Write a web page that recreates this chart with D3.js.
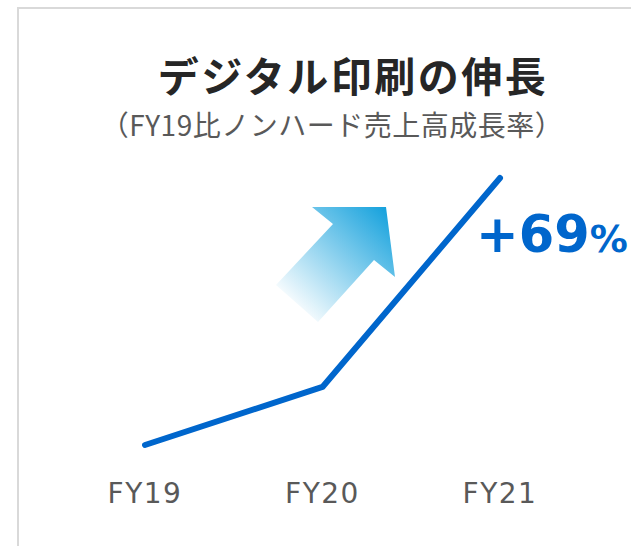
<!DOCTYPE html>
<html lang="ja">
<head>
<meta charset="utf-8">
<title>デジタル印刷の伸長</title>
<style>
  body { margin: 0; background: #fff; }
  svg { display: block; }
  text { font-family: "Noto Sans CJK JP", "Noto Sans", sans-serif; }
  text.latin { font-family: "DejaVu Sans", sans-serif; }
</style>
</head>
<body>
<div id="chart"></div>
<script src="https://d3js.org/d3.v7.min.js"></script>
<script>
// data
var years = ["FY19", "FY20", "FY21"];
var growth = [0, 15, 69];          // non-hardware sales growth vs FY19, %
var highlight = "+69";

var width = 631, height = 546;

var svg = d3.select("#chart").append("svg")
  .attr("width", width)
  .attr("height", height);

// panel border (runs off the right and bottom edges)
svg.append("rect")
  .attr("x", 18).attr("y", 8)
  .attr("width", 700).attr("height", 600)
  .attr("fill", "none")
  .attr("stroke", "#d9d9d9")
  .attr("stroke-width", 2);

// title
svg.append("text")
  .attr("x", 353).attr("y", 92)
  .attr("text-anchor", "middle")
  .attr("font-size", 41).attr("font-weight", 700)
  .attr("letter-spacing", 2.5)
  .attr("fill", "#262626")
  .text("デジタル印刷の伸長");

svg.append("text")
  .attr("x", 332).attr("y", 136)
  .attr("text-anchor", "middle")
  .attr("font-size", 28)
  .attr("letter-spacing", 0.5)
  .attr("fill", "#595959")
  .text("（FY19比ノンハード売上高成長率）");

var x = d3.scalePoint().domain(years).range([145, 500]);
var y = d3.scaleLinear().domain([0, 69]).range([445, 178]);

// decorative arrow
var defs = svg.append("defs");
var grad = defs.append("linearGradient")
  .attr("id", "arrowGrad")
  .attr("x1", "0%").attr("y1", "100%")
  .attr("x2", "100%").attr("y2", "0%");
grad.append("stop").attr("offset", "12%").attr("stop-color", "#ffffff");
grad.append("stop").attr("offset", "100%").attr("stop-color", "#0a9ddb");

svg.append("path")
  .attr("d", "M312,207 L386,207 L395,277 L374,260 L318,322 L276,285 L333,224 Z")
  .attr("fill", "url(#arrowGrad)");

// line
var line = d3.line()
  .x(function(d, i) { return x(years[i]); })
  .y(function(d) { return y(d); });

svg.append("path")
  .datum(growth)
  .attr("d", line)
  .attr("fill", "none")
  .attr("stroke", "#0066cc")
  .attr("stroke-width", 6)
  .attr("stroke-linecap", "round")
  .attr("stroke-linejoin", "round");

// x labels
svg.append("g")
  .selectAll("text")
  .data(years)
  .join("text")
  .attr("class", "latin")
  .attr("x", function(d) { return x(d); })
  .attr("y", 503)
  .attr("text-anchor", "middle")
  .attr("font-size", 28)
  .attr("letter-spacing", 1.5)
  .attr("fill", "#595959")
  .text(function(d) { return d; });

// +69%
var lab = svg.append("text")
  .attr("class", "latin")
  .attr("x", 476).attr("y", 252)
  .attr("fill", "#0066cc")
  .attr("font-weight", 700);
lab.append("tspan").attr("font-size", 51).text(highlight);
lab.append("tspan").attr("font-size", 38).text("%");
</script>
</body>
</html>
